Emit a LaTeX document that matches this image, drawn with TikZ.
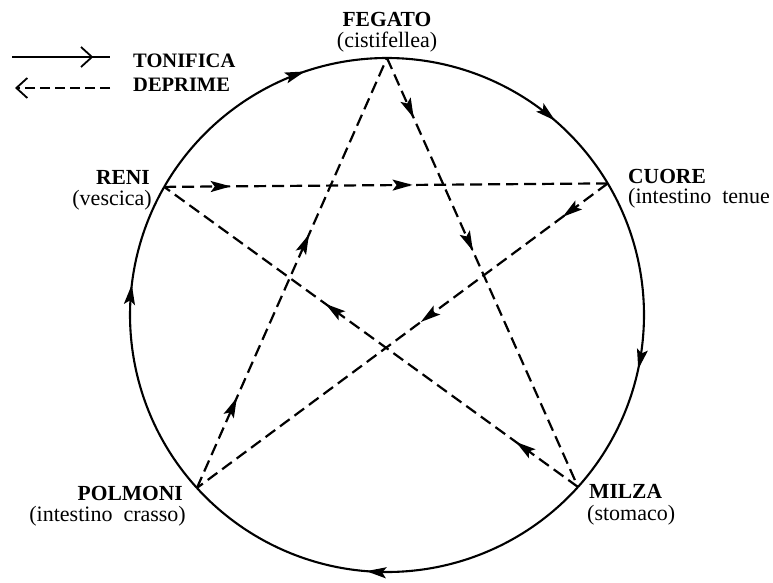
\documentclass[tikz,border=0pt]{standalone}
\usepackage{fontspec}
\setmainfont{Liberation Serif}
\usetikzlibrary{arrows.meta,decorations.markings}
\tikzset{
  ring/.style={line width=2.1pt},
  ctrl/.style={line width=2.2pt, dash pattern=on 12pt off 6pt},
  onearrow/.style={postaction={decorate},
    decoration={markings, mark=at position #1 with {\arrow{Stealth[length=20pt,width=11pt,inset=4pt]}}}},
  twoarrows/.style 2 args={postaction={decorate},
    decoration={markings,
      mark=at position #1 with {\arrow{Stealth[length=20pt,width=11pt,inset=4pt]}},
      mark=at position #2 with {\arrow{Stealth[length=20pt,width=11pt,inset=4pt]}}}},
  lbl/.style={font=\fontsize{21.5}{21.5}\selectfont\bfseries, inner sep=0pt},
  sub/.style={font=\fontsize{22}{22}\selectfont, inner sep=0pt},
  leg/.style={font=\fontsize{20.5}{20.5}\selectfont\bfseries, inner sep=0pt},
  legline/.style={line width=1.8pt},
}
\begin{document}
\begin{tikzpicture}[x=1pt,y=1pt]
\useasboundingbox (0,0) rectangle (773,582);
\coordinate (O) at (387,267);
\path (O) ++(90:257) coordinate (feg);
\path (O) ++(30.8:257) coordinate (cuo);
\path (O) ++(-42:257) coordinate (mil);
\path (O) ++(-137.7:257) coordinate (pol);
\path (O) ++(150.1:257) coordinate (ren);

% generating cycle (circle)
\draw[ring, onearrow=0.69] (feg) arc[start angle=90, end angle=30.8, radius=257];
\draw[ring, onearrow=0.59] (cuo) arc[start angle=30.8, end angle=-42, radius=257];
\draw[ring, onearrow=0.55] (mil) arc[start angle=-42, end angle=-137.7, radius=257];
\draw[ring, onearrow=0.68] (pol) arc[start angle=222.3, end angle=150.1, radius=257];
\draw[ring, onearrow=0.69] (ren) arc[start angle=150.1, end angle=90, radius=257];

% controlling cycle (star)
\draw[ctrl, twoarrows={0.15}{0.56}] (ren) -- (cuo);
\draw[ctrl, twoarrows={0.14}{0.45}] (feg) -- (mil);
\draw[ctrl, twoarrows={0.15}{0.61}] (mil) -- (ren);
\draw[ctrl, twoarrows={0.11}{0.455}] (cuo) -- (pol);
\draw[ctrl, twoarrows={0.21}{0.59}] (pol) -- (feg);

% labels
\node[lbl, anchor=base] (tFeg) at (387,555) {FEGATO};
\node[sub, anchor=base] (sFeg) at (387,534) {(cistifellea)};
\node[lbl, anchor=base east] (tRen) at (150,397) {RENI};
\node[sub, anchor=base east] (sRen) at (152,377) {(vescica)};
\node[lbl, anchor=base west] (tCuo) at (628,399) {CUORE};
\node[sub, anchor=base west] (sCuo) at (628,378) {(intestino\hspace{0.5em}tenue};
\node[lbl, anchor=base east] (tPol) at (183,82) {POLMONI};
\node[sub, anchor=base east] (sPol) at (186,61) {(intestino\hspace{0.5em}crasso)};
\node[lbl, anchor=base west] (tMil) at (589,84) {MILZA};
\node[sub, anchor=base west] (sMil) at (587,62) {(stomaco)};

% legend
\coordinate (l1a) at (12,525);
\coordinate (l1b) at (110,525);
\coordinate (l2a) at (110,494);
\coordinate (l2b) at (15,494);
\draw[legline, postaction={decorate},
  decoration={markings, mark=at position 0.83 with {\arrow{Straight Barb[length=11pt,width=20pt,line width=1.8pt]}}}]
  (l1a) -- (l1b);
\draw[legline, dash pattern=on 10pt off 5pt, -{Straight Barb[length=11pt,width=20pt]}] (l2a) -- (l2b);
\node[leg, anchor=base west] (tTon) at (133,514) {TONIFICA};
\node[leg, anchor=base west] (tDep) at (133,490) {DEPRIME};
\end{tikzpicture}
\end{document}
